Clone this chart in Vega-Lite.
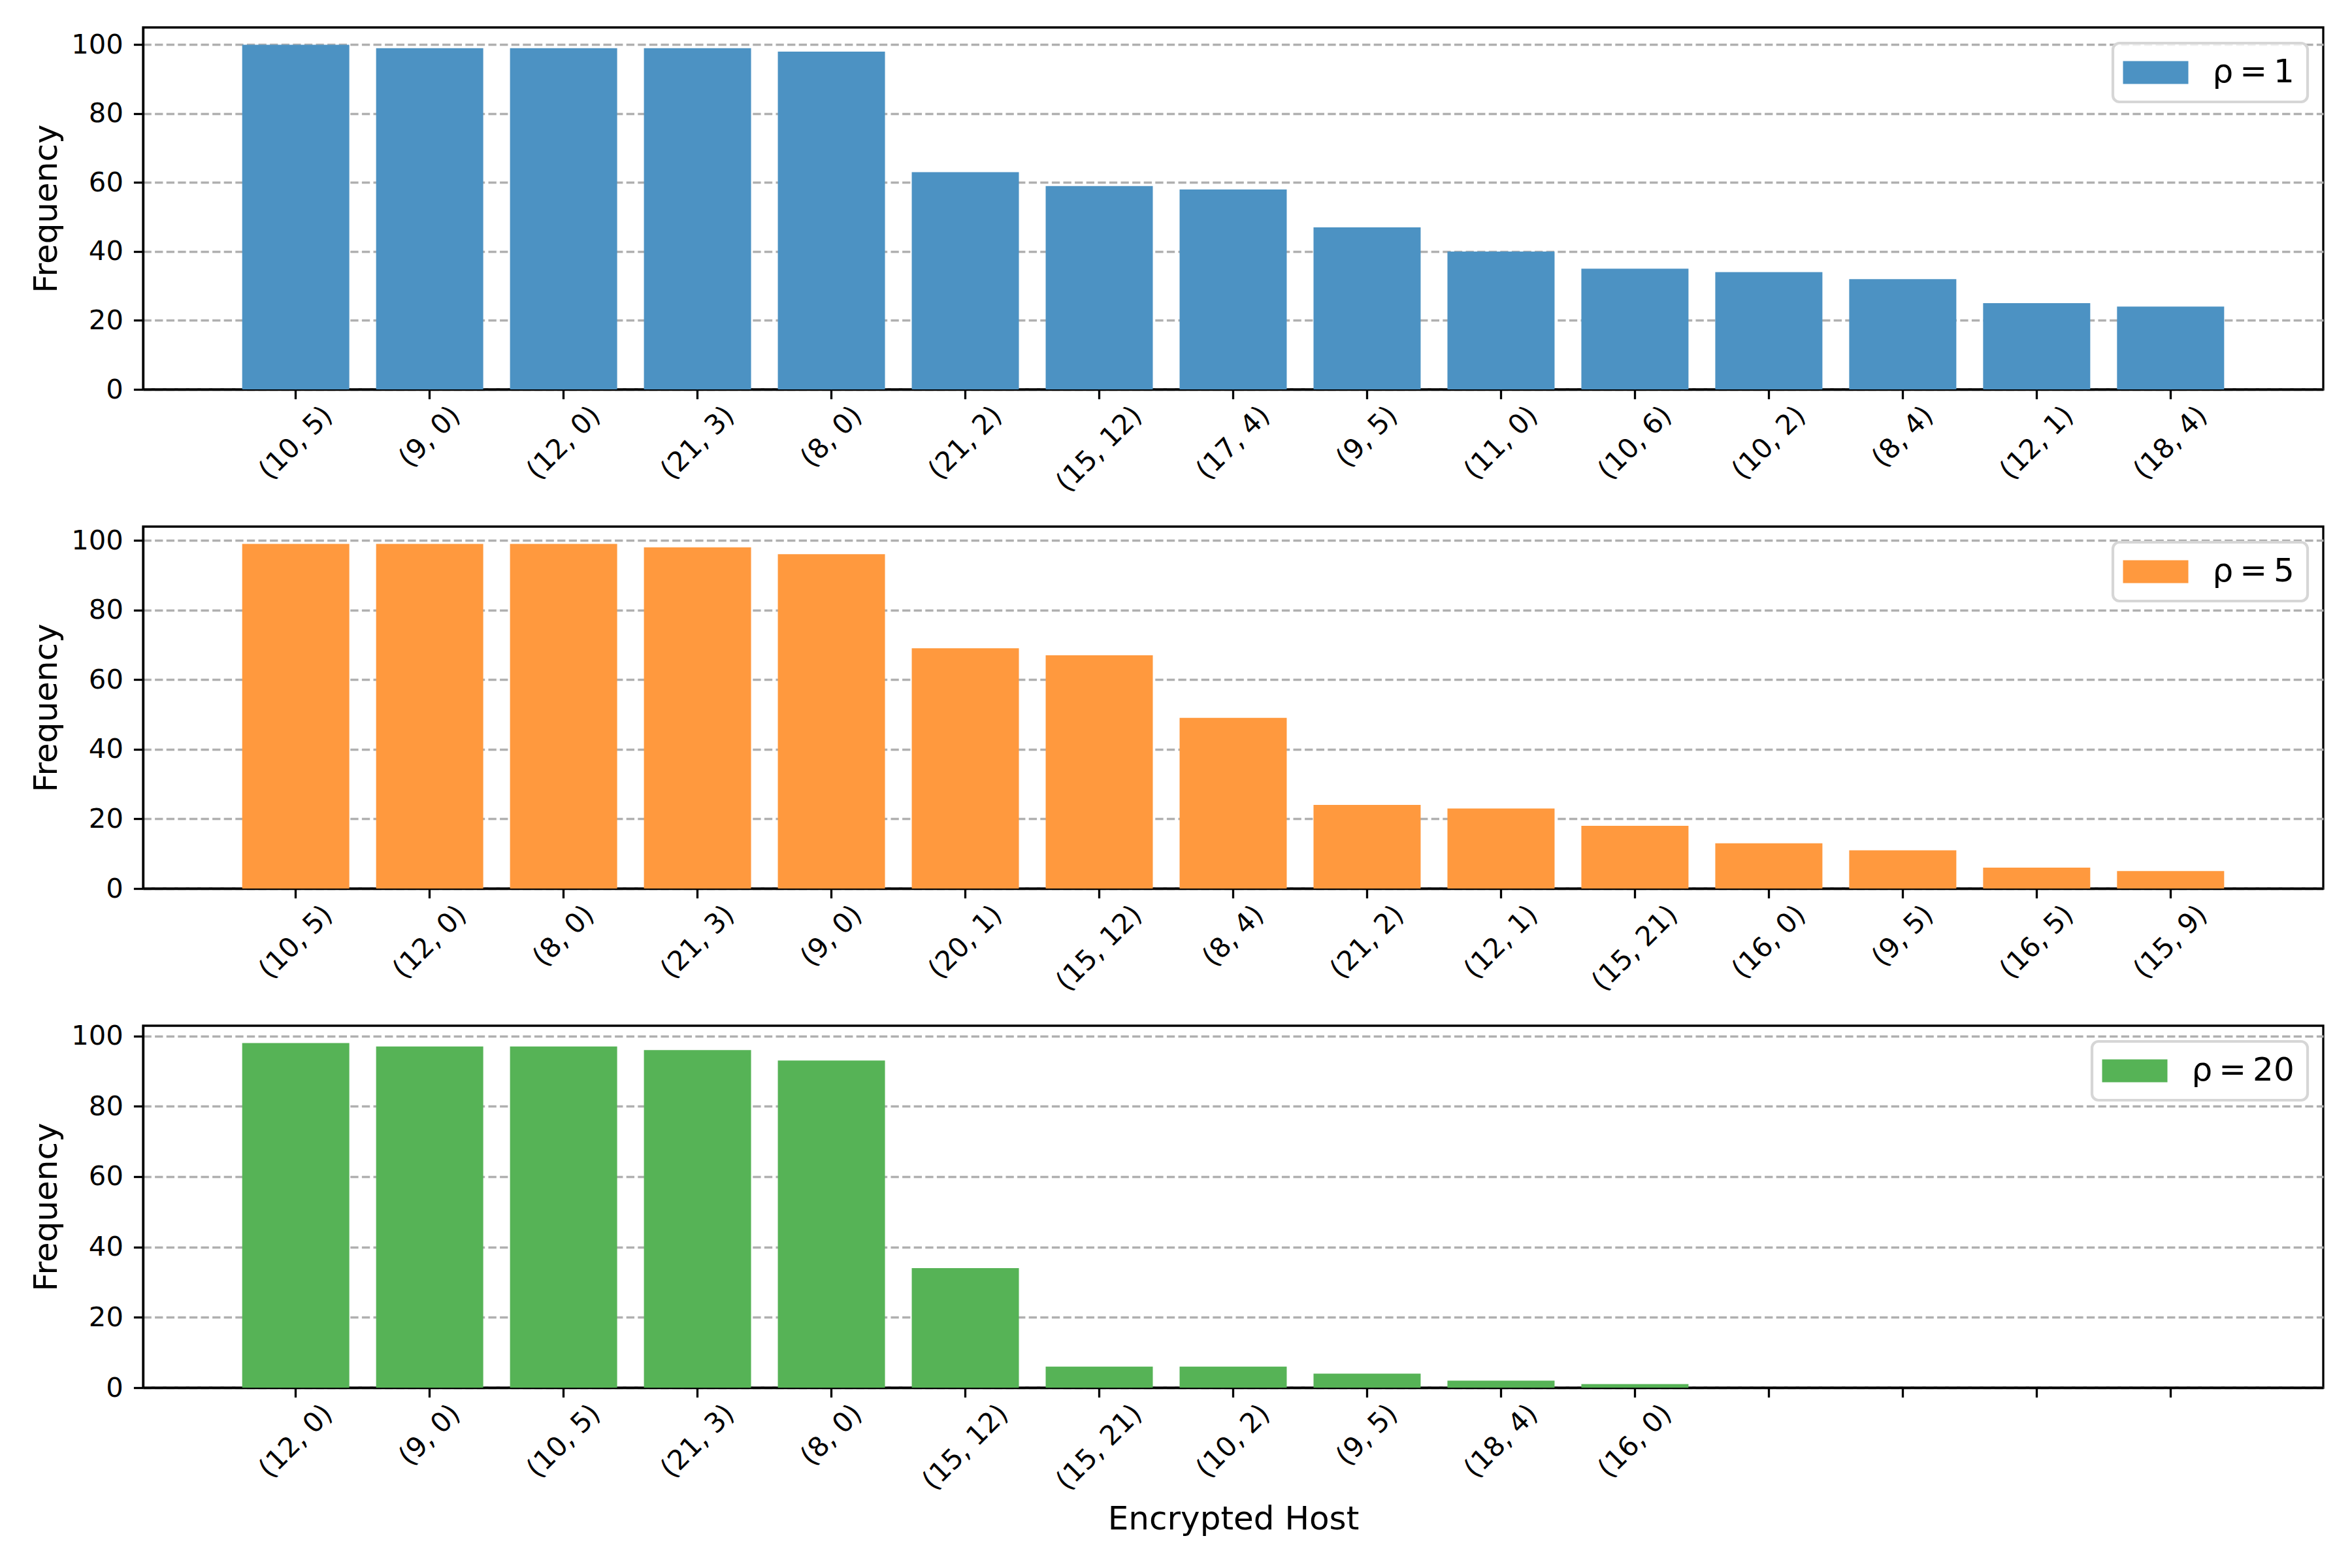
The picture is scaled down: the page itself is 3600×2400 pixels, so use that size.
{
  "$schema": "https://vega.github.io/schema/vega-lite/v6.json",
  "background": "white",
  "padding": {"left": 45, "top": 40, "right": 40, "bottom": 40},
  "data": {
    "values": [
      {"rho": "ρ\u2009=\u20091", "host": "(10, 5)", "freq": 100},
      {"rho": "ρ\u2009=\u20091", "host": "(9, 0)", "freq": 99},
      {"rho": "ρ\u2009=\u20091", "host": "(12, 0)", "freq": 99},
      {"rho": "ρ\u2009=\u20091", "host": "(21, 3)", "freq": 99},
      {"rho": "ρ\u2009=\u20091", "host": "(8, 0)", "freq": 98},
      {"rho": "ρ\u2009=\u20091", "host": "(21, 2)", "freq": 63},
      {"rho": "ρ\u2009=\u20091", "host": "(15, 12)", "freq": 59},
      {"rho": "ρ\u2009=\u20091", "host": "(17, 4)", "freq": 58},
      {"rho": "ρ\u2009=\u20091", "host": "(9, 5)", "freq": 47},
      {"rho": "ρ\u2009=\u20091", "host": "(11, 0)", "freq": 40},
      {"rho": "ρ\u2009=\u20091", "host": "(10, 6)", "freq": 35},
      {"rho": "ρ\u2009=\u20091", "host": "(10, 2)", "freq": 34},
      {"rho": "ρ\u2009=\u20091", "host": "(8, 4)", "freq": 32},
      {"rho": "ρ\u2009=\u20091", "host": "(12, 1)", "freq": 25},
      {"rho": "ρ\u2009=\u20091", "host": "(18, 4)", "freq": 24},
      {"rho": "ρ\u2009=\u20095", "host": "(10, 5)", "freq": 99},
      {"rho": "ρ\u2009=\u20095", "host": "(12, 0)", "freq": 99},
      {"rho": "ρ\u2009=\u20095", "host": "(8, 0)", "freq": 99},
      {"rho": "ρ\u2009=\u20095", "host": "(21, 3)", "freq": 98},
      {"rho": "ρ\u2009=\u20095", "host": "(9, 0)", "freq": 96},
      {"rho": "ρ\u2009=\u20095", "host": "(20, 1)", "freq": 69},
      {"rho": "ρ\u2009=\u20095", "host": "(15, 12)", "freq": 67},
      {"rho": "ρ\u2009=\u20095", "host": "(8, 4)", "freq": 49},
      {"rho": "ρ\u2009=\u20095", "host": "(21, 2)", "freq": 24},
      {"rho": "ρ\u2009=\u20095", "host": "(12, 1)", "freq": 23},
      {"rho": "ρ\u2009=\u20095", "host": "(15, 21)", "freq": 18},
      {"rho": "ρ\u2009=\u20095", "host": "(16, 0)", "freq": 13},
      {"rho": "ρ\u2009=\u20095", "host": "(9, 5)", "freq": 11},
      {"rho": "ρ\u2009=\u20095", "host": "(16, 5)", "freq": 6},
      {"rho": "ρ\u2009=\u20095", "host": "(15, 9)", "freq": 5},
      {"rho": "ρ\u2009=\u200920", "host": "(12, 0)", "freq": 98},
      {"rho": "ρ\u2009=\u200920", "host": "(9, 0)", "freq": 97},
      {"rho": "ρ\u2009=\u200920", "host": "(10, 5)", "freq": 97},
      {"rho": "ρ\u2009=\u200920", "host": "(21, 3)", "freq": 96},
      {"rho": "ρ\u2009=\u200920", "host": "(8, 0)", "freq": 93},
      {"rho": "ρ\u2009=\u200920", "host": "(15, 12)", "freq": 34},
      {"rho": "ρ\u2009=\u200920", "host": "(15, 21)", "freq": 6},
      {"rho": "ρ\u2009=\u200920", "host": "(10, 2)", "freq": 6},
      {"rho": "ρ\u2009=\u200920", "host": "(9, 5)", "freq": 4},
      {"rho": "ρ\u2009=\u200920", "host": "(18, 4)", "freq": 2},
      {"rho": "ρ\u2009=\u200920", "host": "(16, 0)", "freq": 1}
    ]
  },
  "bounds": "flush",
  "spacing": 210,
  "vconcat": [
    {
      "width": 3337,
      "height": 554,
      "transform": [{"filter": "datum.rho == 'ρ\u2009=\u20091'"}],
      "mark": {"type": "bar"},
      "encoding": {
        "x": {
          "field": "host",
          "type": "nominal",
          "scale": {
            "domain": ["(10, 5)", "(9, 0)", "(12, 0)", "(21, 3)", "(8, 0)", "(21, 2)", "(15, 12)", "(17, 4)", "(9, 5)", "(11, 0)", "(10, 6)", "(10, 2)", "(8, 4)", "(12, 1)", "(18, 4)"],
            "paddingInner": 0.2,
            "paddingOuter": 0.74
          },
          "axis": {"title": null}
        },
        "y": {
          "field": "freq",
          "type": "quantitative",
          "scale": {"domain": [0, 105], "nice": false},
          "axis": {"title": "Frequency", "values": [0, 20, 40, 60, 80, 100]}
        },
        "color": {
          "field": "rho",
          "type": "nominal",
          "scale": {"range": ["#4c92c3"]},
          "legend": {"title": null}
        }
      }
    },
    {
      "width": 3337,
      "height": 554,
      "transform": [{"filter": "datum.rho == 'ρ\u2009=\u20095'"}],
      "mark": {"type": "bar"},
      "encoding": {
        "x": {
          "field": "host",
          "type": "nominal",
          "scale": {
            "domain": ["(10, 5)", "(12, 0)", "(8, 0)", "(21, 3)", "(9, 0)", "(20, 1)", "(15, 12)", "(8, 4)", "(21, 2)", "(12, 1)", "(15, 21)", "(16, 0)", "(9, 5)", "(16, 5)", "(15, 9)"],
            "paddingInner": 0.2,
            "paddingOuter": 0.74
          },
          "axis": {"title": null}
        },
        "y": {
          "field": "freq",
          "type": "quantitative",
          "scale": {"domain": [0, 103.95], "nice": false},
          "axis": {"title": "Frequency", "values": [0, 20, 40, 60, 80, 100]}
        },
        "color": {
          "field": "rho",
          "type": "nominal",
          "scale": {"range": ["#ff993e"]},
          "legend": {"title": null}
        }
      }
    },
    {
      "width": 3337,
      "height": 554,
      "transform": [{"filter": "datum.rho == 'ρ\u2009=\u200920'"}],
      "mark": {"type": "bar"},
      "encoding": {
        "x": {
          "field": "host",
          "type": "nominal",
          "scale": {
            "domain": ["(12, 0)", "(9, 0)", "(10, 5)", "(21, 3)", "(8, 0)", "(15, 12)", "(15, 21)", "(10, 2)", "(9, 5)", "(18, 4)", "(16, 0)", " ", "  ", "   ", "    "],
            "paddingInner": 0.2,
            "paddingOuter": 0.74
          },
          "axis": {"title": "Encrypted Host"}
        },
        "y": {
          "field": "freq",
          "type": "quantitative",
          "scale": {"domain": [0, 102.9], "nice": false},
          "axis": {"title": "Frequency", "values": [0, 20, 40, 60, 80, 100]}
        },
        "color": {
          "field": "rho",
          "type": "nominal",
          "scale": {"range": ["#56b356"]},
          "legend": {"title": null}
        }
      }
    }
  ],
  "resolve": {
    "scale": {"x": "independent", "y": "independent", "color": "independent"},
    "legend": {"color": "independent"}
  },
  "config": {
    "font": "DejaVu Sans",
    "view": {"stroke": "black", "strokeWidth": 3.3},
    "axis": {
      "labelFont": "DejaVu Sans",
      "labelFontSize": 41.7,
      "labelColor": "black",
      "titleFont": "DejaVu Sans",
      "titleFontSize": 50,
      "titleFontWeight": "normal",
      "titleColor": "black",
      "tickColor": "black",
      "tickSize": 14.6,
      "tickWidth": 3.3,
      "domainColor": "black",
      "domainWidth": 3.3,
      "zindex": 1
    },
    "axisX": {
      "grid": false,
      "labelAngle": -45,
      "labelAlign": "right",
      "labelBaseline": "middle",
      "labelPadding": 18,
      "labelOffset": {
        "condition": [
          {"test": "length(datum.value) == 8", "value": 58.4},
          {"test": "length(datum.value) == 7", "value": 49.1}
        ],
        "value": 39.7
      },
      "titlePadding": 12
    },
    "axisY": {
      "grid": true,
      "gridColor": "#b0b0b0",
      "gridDash": [12.3, 5.3],
      "gridWidth": 3.3,
      "labelPadding": 16,
      "titlePadding": 12
    },
    "legend": {
      "orient": "top-right",
      "offset": 24,
      "padding": 20,
      "strokeColor": "#d6d6d6",
      "strokeWidth": 4.2,
      "cornerRadius": 10,
      "fillColor": "rgba(255,255,255,0.8)",
      "labelFont": "DejaVu Sans",
      "labelFontSize": 50,
      "labelColor": "black",
      "labelLimit": 0,
      "symbolType": "M-2.857,-1L2.857,-1L2.857,1L-2.857,1Z",
      "symbolSize": 1225,
      "symbolOffset": 20.5,
      "labelOffset": 62,
      "symbolStrokeWidth": 0,
      "symbolOpacity": 1,
      "zindex": 2
    }
  }
}
